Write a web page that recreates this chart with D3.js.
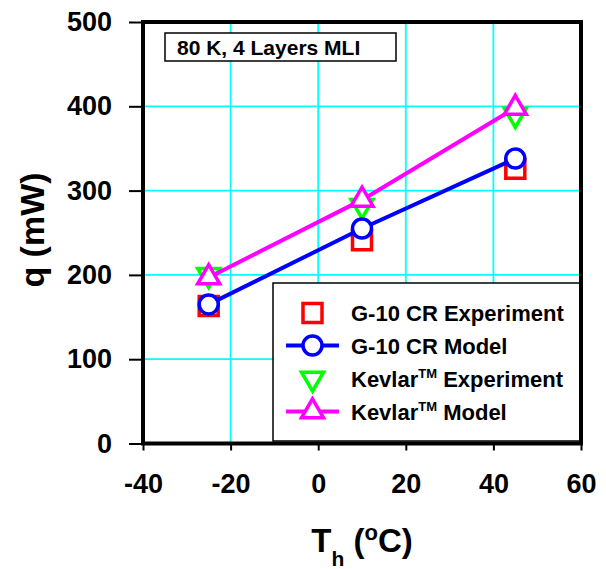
<!DOCTYPE html>
<html>
<head>
<meta charset="utf-8">
<script src="https://cdn.jsdelivr.net/npm/d3@7"></script>
<style>
body { margin: 0; background: #fff; }
text { font-family: "Liberation Sans", Arial, sans-serif; font-weight: bold; fill: #000; }
</style>
</head>
<body>
<script>
var temps = [-25, 10, 45];
var g10Exp = [163, 241, 326];
var g10Model = [165, 255, 338];
var kevExp = [200, 282, 390];
var kevModel = [197, 289, 398];
var xTicks = [-40, -20, 0, 20, 40, 60];
var yTicks = [0, 100, 200, 300, 400, 500];
var legendNames = ["G-10 CR Experiment", "G-10 CR Model", "Kevlar", "Kevlar"];

var W = 606, H = 569;
var pLeft = 143, pRight = 581, pTop = 22, pBottom = 443.5;

var svg = d3.select("body").append("svg").attr("width", W).attr("height", H);

var x = d3.scaleLinear().domain([-40, 60]).range([pLeft, pRight]);
var y = d3.scaleLinear().domain([0, 500]).range([pBottom, pTop]);

// grid
svg.selectAll("line.vg")
    .data([-20, 0, 20, 40])
    .enter().append("line")
        .attr("class", "vg")
        .attr("x1", function(d){return x(d);})
        .attr("x2", function(d){return x(d);})
        .attr("y1", pTop).attr("y2", pBottom)
        .attr("stroke", "#00ffff").attr("stroke-width", 1.8);
svg.selectAll("line.hg")
    .data([100, 200, 300, 400])
    .enter().append("line")
        .attr("class", "hg")
        .attr("y1", function(d){return y(d);})
        .attr("y2", function(d){return y(d);})
        .attr("x1", pLeft).attr("x2", pRight)
        .attr("stroke", "#00ffff").attr("stroke-width", 1.8);

// axes
var fmt = function(d){return String(d);};
var xAxis = svg.append("g").attr("transform", "translate(0," + pBottom + ")")
    .call(d3.axisBottom(x).tickValues(xTicks).tickSize(7).tickPadding(23).tickFormat(fmt));
var yAxis = svg.append("g").attr("transform", "translate(" + pLeft + ",0)")
    .call(d3.axisLeft(y).tickValues(yTicks).tickSize(14).tickPadding(17).tickFormat(fmt));
[xAxis, yAxis].forEach(function(a){
    a.select(".domain").remove();
    a.selectAll(".tick line").attr("stroke", "#000").attr("stroke-width", 2);
    a.selectAll(".tick text").attr("font-size", 27).attr("fill", "#000")
        .style("font-family", "'Liberation Sans', Arial, sans-serif").style("font-weight", "bold");
});

// annotation box
svg.append("rect").attr("x", 165).attr("y", 33).attr("width", 231).attr("height", 28)
    .attr("fill", "#fff").attr("stroke", "#000").attr("stroke-width", 1.5);
svg.append("text").attr("x", 177).attr("y", 55).attr("font-size", 21).text("80 K, 4 Layers MLI");

var sq = d3.symbol().type(d3.symbolSquare).size(361);
var tri = d3.symbol().type(d3.symbolTriangle).size(210);
var line = d3.line().x(function(d, i){return x(temps[i]);}).y(function(d){return y(d);});

// G-10 experiment
svg.selectAll("path.g10e")
    .data(g10Exp)
    .enter().append("path")
        .attr("class", "g10e")
        .attr("d", sq)
        .attr("transform", function(d, i){return "translate(" + x(temps[i]) + "," + y(d) + ")";})
        .attr("fill", "#fff").attr("stroke", "#ff0000").attr("stroke-width", 3.5);

// Kevlar experiment
svg.selectAll("path.keve")
    .data(kevExp)
    .enter().append("path")
        .attr("class", "keve")
        .attr("d", tri)
        .attr("transform", function(d, i){return "translate(" + x(temps[i]) + "," + y(d) + ") rotate(180)";})
        .attr("fill", "#fff").attr("stroke", "#00ff00").attr("stroke-width", 3.5);

// G-10 model
svg.append("path").datum(g10Model).attr("d", line)
    .attr("fill", "none").attr("stroke", "#0000ff").attr("stroke-width", 4);
svg.selectAll("circle.g10m")
    .data(g10Model)
    .enter().append("circle")
        .attr("class", "g10m")
        .attr("cx", function(d, i){return x(temps[i]);})
        .attr("cy", function(d){return y(d);})
        .attr("r", 9.5)
        .attr("fill", "#fff").attr("stroke", "#0000ff").attr("stroke-width", 3.5);

// Kevlar model
svg.append("path").datum(kevModel).attr("d", line)
    .attr("fill", "none").attr("stroke", "#ff00ff").attr("stroke-width", 4);
svg.selectAll("path.kevm")
    .data(kevModel)
    .enter().append("path")
        .attr("class", "kevm")
        .attr("d", tri)
        .attr("transform", function(d, i){return "translate(" + x(temps[i]) + "," + y(d) + ")";})
        .attr("fill", "#fff").attr("stroke", "#ff00ff").attr("stroke-width", 3.5);

// legend
var lg = svg.append("g");
lg.append("rect").attr("x", 273).attr("y", 283).attr("width", 308).attr("height", 158)
    .attr("fill", "#fff").attr("stroke", "#000").attr("stroke-width", 1.5);
var rowY = [313, 345.5, 378.5, 411.5];
var sx = 312.5;
lg.append("path").attr("d", sq).attr("transform", "translate(" + sx + "," + rowY[0] + ")")
    .attr("fill", "#fff").attr("stroke", "#ff0000").attr("stroke-width", 3.5);
lg.append("line").attr("x1", 286).attr("x2", 339).attr("y1", rowY[1]).attr("y2", rowY[1])
    .attr("stroke", "#0000ff").attr("stroke-width", 4);
lg.append("circle").attr("cx", sx).attr("cy", rowY[1]).attr("r", 9.5)
    .attr("fill", "#fff").attr("stroke", "#0000ff").attr("stroke-width", 3.5);
lg.append("path").attr("d", tri).attr("transform", "translate(" + sx + "," + rowY[2] + ") rotate(180)")
    .attr("fill", "#fff").attr("stroke", "#00ff00").attr("stroke-width", 3.5);
lg.append("line").attr("x1", 286).attr("x2", 339).attr("y1", rowY[3]).attr("y2", rowY[3])
    .attr("stroke", "#ff00ff").attr("stroke-width", 4);
lg.append("path").attr("d", tri).attr("transform", "translate(" + sx + "," + rowY[3] + ")")
    .attr("fill", "#fff").attr("stroke", "#ff00ff").attr("stroke-width", 3.5);

legendNames.forEach(function(name, i){
    var t = lg.append("text").attr("x", 351).attr("y", rowY[i] + 8).attr("font-size", 22);
    if (i < 2) {
        t.text(name);
    } else {
        t.append("tspan").text(name);
        t.append("tspan").attr("font-size", 13).attr("dy", -9).text("TM");
        t.append("tspan").attr("dy", 9).text(i == 2 ? " Experiment" : " Model");
    }
});

// frame
svg.append("rect").attr("x", pLeft).attr("y", pTop).attr("width", pRight - pLeft).attr("height", pBottom - pTop)
    .attr("fill", "none").attr("stroke", "#000").attr("stroke-width", 4);

// axis titles
svg.append("text")
    .attr("transform", "translate(44,230) rotate(-90)")
    .attr("text-anchor", "middle").attr("font-size", 34)
    .text("q (mW)");

var xt = svg.append("text").attr("x", 362).attr("y", 552).attr("text-anchor", "middle").attr("font-size", 33);
xt.append("tspan").text("T");
xt.append("tspan").attr("font-size", 21).attr("dy", 14).text("h");
xt.append("tspan").attr("dy", -14).text(" (");
xt.append("tspan").attr("font-size", 22).attr("dy", -12).text("o");
xt.append("tspan").attr("dy", 12).text("C)");
</script>
</body>
</html>
